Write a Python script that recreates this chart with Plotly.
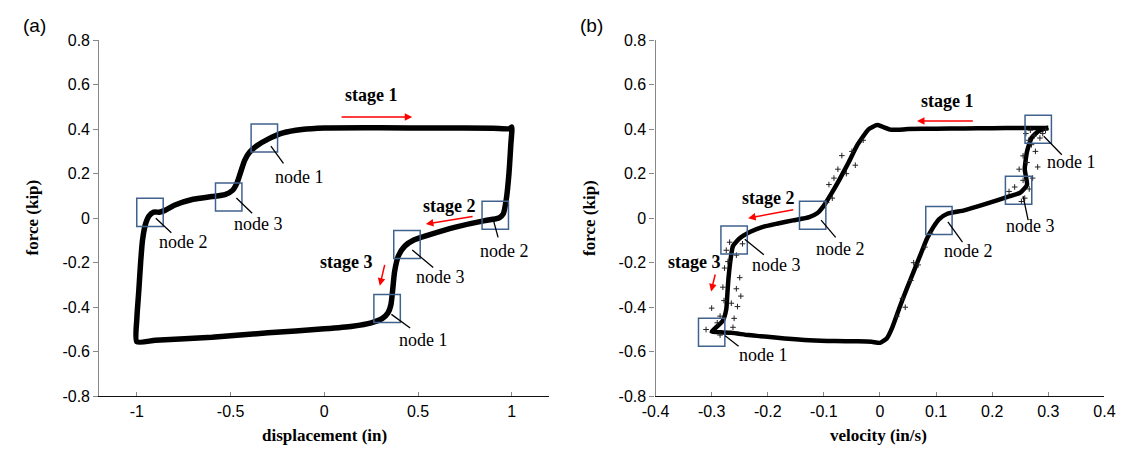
import plotly.graph_objects as go

# ---------------- data ----------------
# (a) force vs displacement hysteresis loop
disp = [-1.0, -1.0, -0.99, -0.98, -0.97, -0.955, -0.935, -0.91, -0.88, -0.85, -0.8, -0.7,
        -0.6, -0.53, -0.49, -0.465, -0.445, -0.425, -0.40, -0.36, -0.30, -0.22, -0.12, 0.0,
        0.3, 0.6, 0.9, 0.99, 1.0, 0.995, 0.985, 0.97, 0.955, 0.935, 0.9, 0.85, 0.7, 0.55,
        0.48, 0.43, 0.395, 0.375, 0.365, 0.355, 0.34, 0.31, 0.25, 0.15, 0.0, -0.3, -0.6,
        -0.9, -1.0]
force_a = [-0.555, -0.45, -0.33, -0.2, -0.1, -0.03, 0.01, 0.027, 0.027, 0.035, 0.058, 0.085,
           0.097, 0.106, 0.125, 0.16, 0.21, 0.26, 0.295, 0.325, 0.355, 0.383, 0.398, 0.405,
           0.406, 0.405, 0.404, 0.402, 0.41, 0.33, 0.2, 0.08, 0.02, 0.003, -0.005, -0.012,
           -0.04, -0.077, -0.097, -0.125, -0.17, -0.24, -0.32, -0.39, -0.425, -0.45, -0.47,
           -0.485, -0.497, -0.515, -0.535, -0.548, -0.555]

# (b) force vs velocity
vel = [0.30, 0.25, 0.20, 0.15, 0.10, 0.05, 0.02, 0.005, -0.005, -0.02, -0.04, -0.056, -0.073,
       -0.088, -0.102, -0.112, -0.126, -0.155, -0.184, -0.21, -0.23, -0.25, -0.262, -0.266,
       -0.27, -0.272, -0.274, -0.28, -0.294, -0.30, -0.28, -0.265, -0.235, -0.213, -0.17,
       -0.126, -0.08, -0.04, -0.015, 0.0, 0.012, 0.022, 0.035, 0.048, 0.06, 0.072, 0.084,
       0.095, 0.105, 0.12, 0.15, 0.19, 0.23, 0.25, 0.262, 0.258, 0.262, 0.27, 0.282, 0.30]
force_b = [0.405, 0.405, 0.404, 0.403, 0.402, 0.400, 0.397, 0.41, 0.418, 0.40, 0.33, 0.25, 0.17,
           0.105, 0.05, 0.022, 0.005, -0.01, -0.025, -0.04, -0.06, -0.09, -0.125, -0.18,
           -0.27, -0.34, -0.41, -0.46, -0.495, -0.51, -0.513, -0.515, -0.525, -0.53, -0.54,
           -0.548, -0.552, -0.553, -0.555, -0.56, -0.54, -0.49, -0.40, -0.315, -0.24, -0.165,
           -0.09, -0.04, -0.005, 0.02, 0.035, 0.065, 0.098, 0.115, 0.15, 0.22, 0.30, 0.36,
           0.39, 0.408]

# scattered samples around the velocity loop
vel_scatter = [0.248, 0.281, 0.255, 0.272, 0.266, 0.265, 0.27, 0.275, 0.285, 0.29, 0.26, 0.277,
               0.262, 0.255, 0.24, 0.23, 0.258, 0.252, 0.295, 0.268,
               -0.082, -0.044, -0.091, -0.085, -0.068, -0.03, -0.05, -0.095, -0.06, -0.075,
               -0.30, -0.277, -0.25, -0.28, -0.256, -0.265, -0.254, -0.285, -0.271, -0.256,
               -0.274, -0.245, -0.268, -0.26, -0.29, -0.31, -0.285, -0.262, -0.248, -0.278,
               0.03, 0.055, 0.068, 0.04, 0.08, 0.09, 0.045, 0.06]
force_scatter = [0.22, 0.23, 0.28, 0.18, 0.131, 0.35, 0.33, 0.37, 0.36, 0.38, 0.38, 0.30,
                 0.25, 0.17, 0.14, 0.12, 0.09, 0.075, 0.395, 0.395,
                 0.18, 0.238, 0.151, 0.09, 0.281, 0.35, 0.30, 0.07, 0.2, 0.22,
                 -0.404, -0.224, -0.267, -0.31, -0.317, -0.382, -0.397, -0.44, -0.195, -0.166,
                 -0.144, -0.115, -0.108, -0.45, -0.47, -0.5, -0.525, -0.49, -0.35, -0.37,
                 -0.44, -0.28, -0.21, -0.36, -0.13, -0.07, -0.40, -0.2]

# tick values / labels
disp_ticks = [-1, -0.5, 0, 0.5, 1]
disp_ticktext = ["-1", "-0.5", "0", "0.5", "1"]
vel_ticks = [-0.4, -0.3, -0.2, -0.1, 0, 0.1, 0.2, 0.3, 0.4]
vel_ticktext = ["-0.4", "-0.3", "-0.2", "-0.1", "0", "0.1", "0.2", "0.3", "0.4"]
force_ticks = [-0.8, -0.6, -0.4, -0.2, 0, 0.2, 0.4, 0.6, 0.8]
force_ticktext = ["-0.8", "-0.6", "-0.4", "-0.2", "0", "0.2", "0.4", "0.6", "0.8"]

# node markers: (label, box centre x, box centre y, leader start, leader end, label position)
nodes_a = [
    ("node 1", -0.32, 0.36, (-0.285, 0.324), (-0.218, 0.246), (-0.134, 0.186)),
    ("node 3", -0.51, 0.095, (-0.469, 0.091), (-0.385, 0.022), (-0.352, -0.026)),
    ("node 2", -0.93, 0.026, (-0.899, 0.0), (-0.816, -0.065), (-0.749, -0.107)),
    ("node 2", 0.912, 0.013, (0.899, 0.0), (0.927, -0.086), (0.961, -0.147)),
    ("node 3", 0.441, -0.118, (0.469, -0.143), (0.581, -0.221), (0.620, -0.264)),
    ("node 1", 0.335, -0.406, (0.358, -0.432), (0.458, -0.493), (0.531, -0.549)),
]
nodes_b = [
    ("node 1", 0.282, 0.399, (0.292, 0.368), (0.324, 0.285), (0.341, 0.251)),
    ("node 3", 0.247, 0.125, (0.255, 0.099), (0.264, -0.009), (0.268, -0.035)),
    ("node 2", 0.105, -0.01, (0.121, -0.017), (0.147, -0.108), (0.157, -0.147)),
    ("node 2", -0.12, 0.013, (-0.105, -0.009), (-0.079, -0.086), (-0.071, -0.138)),
    ("node 3", -0.26, -0.098, (-0.241, -0.095), (-0.207, -0.164), (-0.184, -0.212)),
    ("node 1", -0.30, -0.512, (-0.276, -0.528), (-0.252, -0.575), (-0.207, -0.614)),
]
# stage labels: (text, label position, arrow tail, arrow head)
stages_a = [
    ("stage 1", (0.251, 0.554), (0.084, 0.454), (0.469, 0.454)),
    ("stage 2", (0.670, 0.056), (0.799, 0.009), (0.542, -0.026)),
    ("stage 3", (0.117, -0.195), (0.324, -0.203), (0.296, -0.303)),
]
stages_b = [
    ("stage 1", (0.121, 0.528), (0.168, 0.437), (0.066, 0.437)),
    ("stage 2", (-0.199, 0.091), (-0.152, 0.039), (-0.235, 0.0)),
    ("stage 3", (-0.331, -0.195), (-0.293, -0.246), (-0.301, -0.329)),
]
box_w_a, box_w_b, box_h = 0.141, 0.047, 0.126

# ---------------- styling ----------------
W, H = 1135, 457
SERIF = "Liberation Serif, Times New Roman, serif"
SANS = "Liberation Sans, Arial, sans-serif"
BOX_COLOR = "#40628F"
AX_GRAY = "#878787"


def px_x(p):
    return p / W


def px_y(p):
    return 1 - p / H


fig = go.Figure()

fig.add_trace(go.Scatter(x=disp, y=force_a, mode="lines", xaxis="x", yaxis="y",
                         line=dict(color="black", width=5.5, shape="spline", smoothing=0.6),
                         hoverinfo="skip"))
fig.add_trace(go.Scatter(x=vel, y=force_b, mode="lines", xaxis="x2", yaxis="y2",
                         line=dict(color="black", width=4.5, shape="spline", smoothing=0.5),
                         hoverinfo="skip"))
fig.add_trace(go.Scatter(x=vel_scatter, y=force_scatter, mode="markers", xaxis="x2", yaxis="y2",
                         marker=dict(symbol="cross-thin", size=4,
                                     line=dict(color="#222222", width=1)),
                         hoverinfo="skip"))

shapes = []
annotations = []


def add_nodes(nodes, bw, xref, yref):
    for label, cx, cy, l0, l1, lp in nodes:
        shapes.append(dict(type="rect", xref=xref, yref=yref,
                           x0=cx - bw / 2, x1=cx + bw / 2,
                           y0=cy - box_h / 2, y1=cy + box_h / 2,
                           line=dict(color=BOX_COLOR, width=1.5), layer="above"))
        shapes.append(dict(type="line", xref=xref, yref=yref,
                           x0=l0[0], y0=l0[1], x1=l1[0], y1=l1[1],
                           line=dict(color="black", width=1.3)))
        annotations.append(dict(text=label, xref=xref, yref=yref, x=lp[0], y=lp[1],
                                showarrow=False, xanchor="center", yanchor="middle",
                                font=dict(family=SERIF, size=18, color="black")))


def add_stages(stages, xref, yref):
    for label, lp, tail, head in stages:
        annotations.append(dict(text="<b>%s</b>" % label, xref=xref, yref=yref,
                                x=lp[0], y=lp[1], showarrow=False,
                                xanchor="center", yanchor="middle",
                                font=dict(family=SERIF, size=18, color="black")))
        annotations.append(dict(text="", xref=xref, yref=yref, x=head[0], y=head[1],
                                axref=xref, ayref=yref, ax=tail[0], ay=tail[1],
                                showarrow=True, arrowhead=2, arrowsize=1,
                                arrowwidth=1.5, arrowcolor="#FF0000"))


add_nodes(nodes_a, box_w_a, "x", "y")
add_nodes(nodes_b, box_w_b, "x2", "y2")
add_stages(stages_a, "x", "y")
add_stages(stages_b, "x2", "y2")

# panel tags and axis titles
for txt, x, y in [("(a)", 21, 18), ("(b)", 591, 18)]:
    annotations.append(dict(text=txt, xref="paper", yref="paper", x=px_x(x), y=px_y(y),
                            showarrow=False, xanchor="center", yanchor="middle",
                            font=dict(family=SANS, size=19, color="black")))
for txt, x, y in [("displacement (in)", 317, 444), ("velocity (in/s)", 884, 444)]:
    annotations.append(dict(text="<b>%s</b>" % txt, xref="paper", yref="paper",
                            x=px_x(x), y=px_y(y), showarrow=False,
                            xanchor="center", yanchor="middle",
                            font=dict(family=SERIF, size=17, color="black")))
for x in (19, 589):
    annotations.append(dict(text="<b>force (kip)</b>", xref="paper", yref="paper",
                            x=px_x(x), y=px_y(218), showarrow=False, textangle=-90,
                            xanchor="center", yanchor="middle",
                            font=dict(family=SERIF, size=17, color="black")))

y_dom = [px_y(403.3), px_y(33.3)]
common_x = dict(showgrid=False, zeroline=False, showline=True, linecolor="#111111",
                linewidth=1.3, ticks="inside", ticklen=4, tickcolor=AX_GRAY, tickwidth=1,
                tickfont=dict(family=SANS, size=16, color="black"), fixedrange=True)
common_y = dict(showgrid=False, zeroline=False, showline=True, linecolor=AX_GRAY,
                linewidth=1.3, ticks="outside", ticklen=5, tickcolor=AX_GRAY, tickwidth=1,
                tickfont=dict(family=SANS, size=16, color="black"), fixedrange=True,
                range=[-0.8, 0.8], tickvals=force_ticks, ticktext=force_ticktext)

fig.update_layout(
    width=W, height=H, margin=dict(l=0, r=0, t=0, b=0),
    paper_bgcolor="white", plot_bgcolor="white", showlegend=False,
    xaxis=dict(common_x, domain=[px_x(87.3), px_x(547.3)], range=[-1.2, 1.2],
               tickvals=disp_ticks, ticktext=disp_ticktext, anchor="y"),
    yaxis=dict(common_y, domain=y_dom, anchor="x"),
    xaxis2=dict(common_x, domain=[px_x(656), px_x(1115)], range=[-0.4, 0.4],
                tickvals=vel_ticks, ticktext=vel_ticktext, anchor="y2"),
    yaxis2=dict(common_y, domain=y_dom, anchor="x2"),
    shapes=shapes, annotations=annotations,
)

fig.write_html("out.html")
